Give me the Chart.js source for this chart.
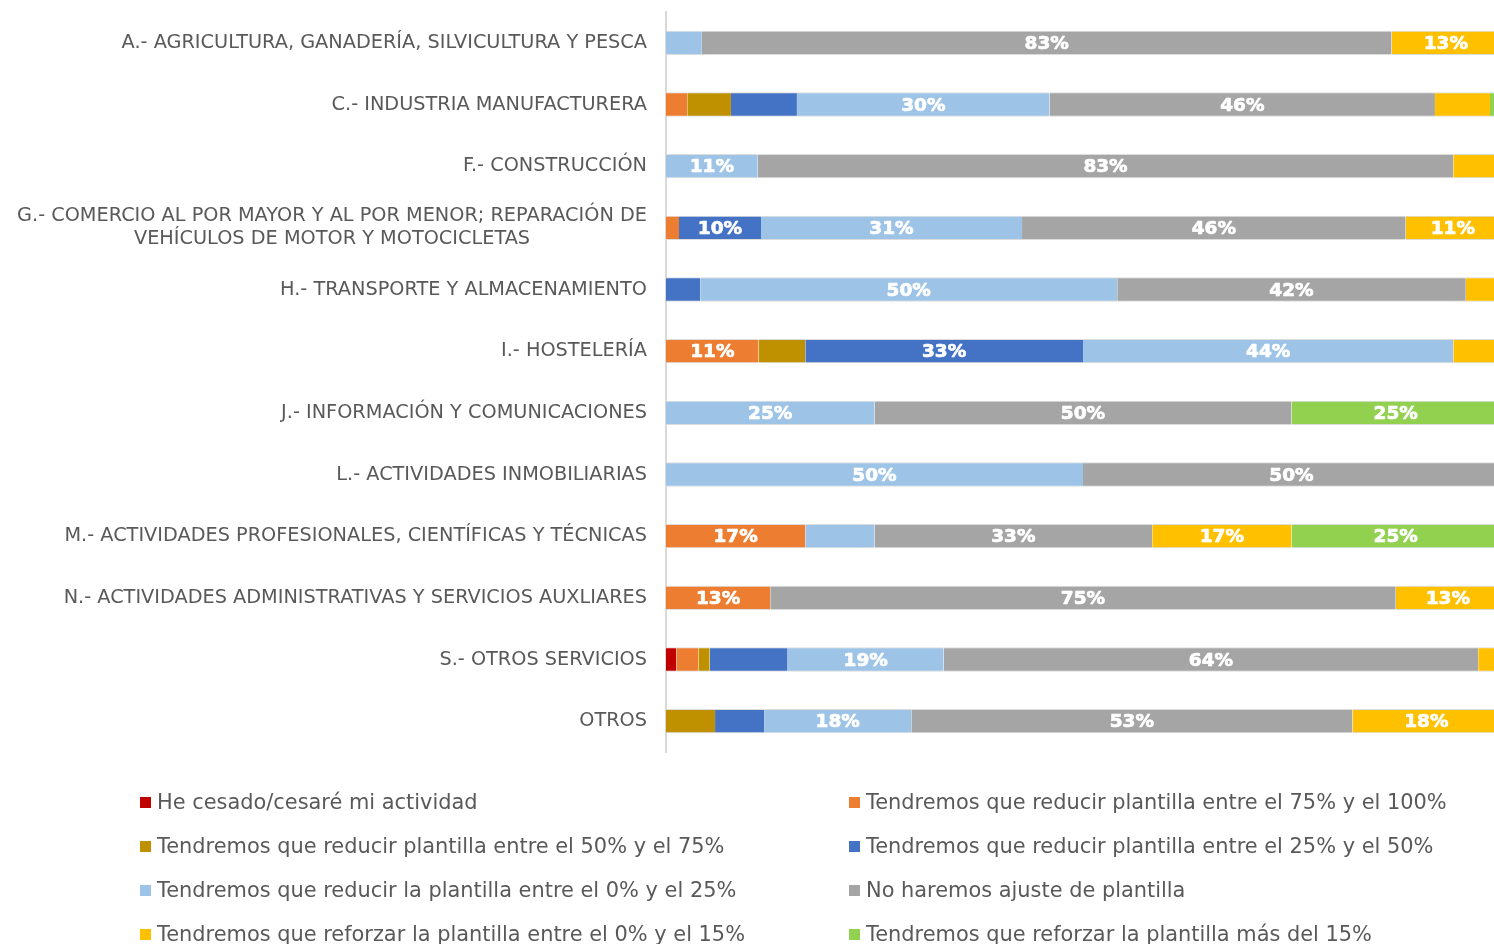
<!DOCTYPE html>
<html>
<head>
<meta charset="utf-8">
<script src="https://cdn.jsdelivr.net/npm/chart.js@4/dist/chart.umd.min.js"></script>
<style>
  html, body { margin:0; padding:0; background:#fff; overflow:hidden; width:1494px; height:944px; }
  #wrap { position:absolute; left:0; top:0; width:1500px; height:760px; }
  #legend { position:absolute; left:0; top:0; width:1494px; height:944px; pointer-events:none; }
  .li { position:absolute; display:flex; align-items:center; font-family:"DejaVu Sans", sans-serif; font-size:20.9px; color:#595959; white-space:nowrap; height:28px; }
  .li .bx { width:11px; height:11px; margin-right:6px; flex:none; }
</style>
</head>
<body>
<div id="wrap"><canvas id="c" width="1500" height="760"></canvas></div>
<div id="legend"></div>
<script>
// ---- data ----
const categories = [
  "A.- AGRICULTURA, GANADERÍA, SILVICULTURA Y PESCA",
  "C.- INDUSTRIA MANUFACTURERA",
  "F.- CONSTRUCCIÓN",
  ["G.- COMERCIO AL POR MAYOR Y AL POR MENOR; REPARACIÓN DE", "VEHÍCULOS DE MOTOR Y MOTOCICLETAS"],
  "H.- TRANSPORTE Y ALMACENAMIENTO",
  "I.- HOSTELERÍA",
  "J.- INFORMACIÓN Y COMUNICACIONES",
  "L.- ACTIVIDADES INMOBILIARIAS",
  "M.- ACTIVIDADES PROFESIONALES, CIENTÍFICAS Y TÉCNICAS",
  "N.- ACTIVIDADES ADMINISTRATIVAS Y SERVICIOS AUXLIARES",
  "S.- OTROS SERVICIOS",
  "OTROS"
];
const seriesNames = [
  "He cesado/cesaré mi actividad",
  "Tendremos que reducir plantilla entre el 75% y el 100%",
  "Tendremos que reducir plantilla entre el 50% y el 75%",
  "Tendremos que reducir plantilla entre el 25% y el 50%",
  "Tendremos que reducir la plantilla entre el 0% y el 25%",
  "No haremos ajuste de plantilla",
  "Tendremos que reforzar la plantilla entre el 0% y el 15%",
  "Tendremos que reforzar la plantilla más del 15%"
];
const cesado       = [0,    0,    0,    0,    0,    0,    0,  0,  0,    0,    1.24, 0];
const reducir75100 = [0,    2.55, 0,    1.56, 0,    11.1, 0,  0,  16.7, 12.5, 2.64, 0];
const reducir5075  = [0,    5.24, 0,    0,    0,    5.6,  0,  0,  0,    0,    1.36, 5.88];
const reducir2550  = [0,    7.91, 0,    9.83, 4.1,  33.3, 0,  0,  0,    0,    9.35, 5.88];
const reducir025   = [4.3,  30.3, 11.0, 31.3, 50.0, 44.4, 25, 50, 8.3,  0,    18.7, 17.65];
const noAjuste     = [82.7, 46.2, 83.4, 46.0, 41.8, 0,    50, 50, 33.3, 75,   64.1, 52.9];
const reforzar015  = [13.0, 6.6,  5.6,  11.3, 4.1,  5.6,  0,  0,  16.7, 12.5, 2.6,  17.7];
const reforzarMas15= [0,    1.2,  0,    0,    0,    0,    25, 0,  25,   0,    0,    0];

const seriesValues = [cesado, reducir75100, reducir5075, reducir2550, reducir025, noAjuste, reforzar015, reforzarMas15];
const colors = ["#C00000", "#ED7D31", "#BF9000", "#4472C4", "#9DC3E6", "#A5A5A5", "#FFC000", "#92D050"];

const datasets = seriesNames.map((n, i) => ({
  label: n,
  data: seriesValues[i],
  backgroundColor: colors[i],
  borderColor: "#dcdcdc",
  borderWidth: {top: 1, bottom: 1, left: 0, right: 0},
  borderSkipped: false,
  categoryPercentage: 0.395,
  barPercentage: 1
}));

const valueLabels = {
  id: "valueLabels",
  afterDatasetsDraw(chart) {
    const ctx = chart.ctx;
    ctx.save();
    ctx.font = "bold 18.5px 'DejaVu Sans', sans-serif";
    ctx.fillStyle = "#ffffff";
    ctx.strokeStyle = "#ffffff";
    ctx.lineWidth = 0.7;
    ctx.lineJoin = "round";
    ctx.textAlign = "center";
    ctx.textBaseline = "middle";
    chart.data.datasets.forEach((ds, di) => {
      const meta = chart.getDatasetMeta(di);
      meta.data.forEach((el, i) => {
        const v = ds.data[i];
        if (Math.round(v) >= 10) {
          const t = Math.round(v) + "%";
          const x = (el.x + el.base) / 2, y = el.y + 1.5;
          ctx.strokeText(t, x, y);
          ctx.fillText(t, x, y);
        }
      });
    });
    ctx.restore();
  }
};

const catLabels = {
  id: "catLabels",
  afterDraw(chart) {
    const ctx = chart.ctx;
    const ys = chart.scales.y;
    ctx.save();
    ctx.font = "19.3px 'DejaVu Sans', sans-serif";
    ctx.fillStyle = "#595959";
    ctx.textAlign = "center";
    ctx.textBaseline = "middle";
    const rightEdge = 647, lh = 23;
    chart.data.labels.forEach((lab, i) => {
      const lines = Array.isArray(lab) ? lab : [lab];
      const w = Math.max(...lines.map(l => ctx.measureText(l).width));
      const cx = rightEdge - w / 2;
      const cy = ys.getPixelForTick(i);
      const y0 = cy - (lines.length - 1) * lh / 2;
      lines.forEach((l, k) => ctx.fillText(l, cx, y0 + k * lh));
    });
    ctx.restore();
  }
};

const chart = new Chart(document.getElementById("c"), {
  type: "bar",
  data: { labels: categories, datasets },
  options: {
    indexAxis: "y",
    responsive: false,
    animation: false,
    devicePixelRatio: 1,
    layout: { padding: { top: 12, bottom: 8, left: 0, right: 0 } },
    plugins: { legend: { display: false }, tooltip: { enabled: false } },
    scales: {
      x: { stacked: true, min: 0, max: 100, display: false },
      y: {
        stacked: true,
        grid: { display: false },
        border: { display: true, color: "#d9d9d9", width: 2 },
        ticks: { display: false },
        afterFit(s) { s.width = 666; }
      }
    }
  },
  plugins: [valueLabels, catLabels]
});

// HTML legend, 2 columns
const leg = document.getElementById("legend");
const colX = [140, 849];
const rowY = [802, 846, 890, 934];
chart.data.datasets.forEach((ds, i) => {
  const d = document.createElement("div");
  d.className = "li";
  d.style.left = colX[i % 2] + "px";
  d.style.top = (rowY[Math.floor(i / 2)] - 14) + "px";
  const b = document.createElement("span");
  b.className = "bx";
  b.style.background = ds.backgroundColor;
  const t = document.createElement("span");
  t.textContent = ds.label;
  d.appendChild(b); d.appendChild(t);
  leg.appendChild(d);
});
</script>
</body>
</html>
